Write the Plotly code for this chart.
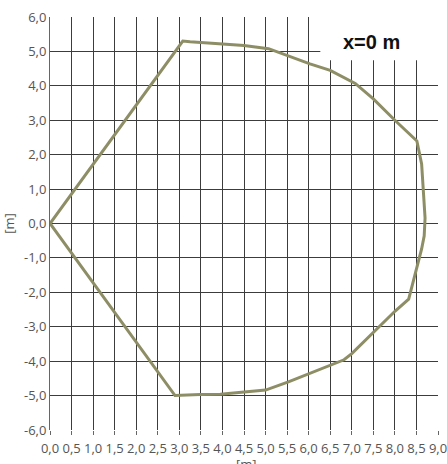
import plotly.graph_objects as go

# cross-section outline at x=0 m (lateral [m], vertical [m])
outline_y = [0.0, 3.08, 3.25, 4.0, 4.5, 5.07, 6.03, 6.5, 7.08, 7.5, 8.0, 8.51,
             8.62, 8.70, 8.68, 8.62, 8.5, 8.32, 8.0, 7.5, 7.0, 6.82, 6.03, 5.53,
             5.0, 4.5, 3.95, 3.48, 3.0, 2.9, 0.0]
outline_z = [0.0, 5.30, 5.28, 5.22, 5.17, 5.08, 4.64, 4.45, 4.07, 3.62, 3.0, 2.4,
             1.73, 0.16, -0.36, -0.74, -1.31, -2.2, -2.55, -3.18, -3.78, -3.96, -4.36, -4.6,
             -4.84, -4.9, -4.96, -4.97, -5.0, -5.0, 0.0]

x_ticks = [0.0, 0.5, 1.0, 1.5, 2.0, 2.5, 3.0, 3.5, 4.0, 4.5, 5.0, 5.5, 6.0, 6.5, 7.0, 7.5, 8.0, 8.5, 9.0]
x_labels = ["0,0", "0,5", "1,0", "1,5", "2,0", "2,5", "3,0", "3,5", "4,0", "4,5",
            "5,0", "5,5", "6,0", "6,5", "7,0", "7,5", "8,0", "8,5", "9,0"]
y_ticks = [6, 5, 4, 3, 2, 1, 0, -1, -2, -3, -4, -5, -6]
y_labels = ["6,0", "5,0", "4,0", "3,0", "2,0", "1,0", "0,0", "-1,0", "-2,0", "-3,0", "-4,0", "-5,0", "-6,0"]

fig = go.Figure()
fig.add_trace(go.Scatter(x=outline_y, y=outline_z, mode="lines",
                         line=dict(color="#8e8e66", width=3), hoverinfo="skip"))

# white label box hiding the grid in the upper right corner
fig.add_shape(type="rect", xref="x", yref="y", x0=6.27, x1=9.3, y0=4.74, y1=6.6,
              fillcolor="white", line=dict(width=0), layer="above")

tick_font = dict(family="Open Sans, DejaVu Sans", size=13, color="#555")
fig.update_xaxes(range=[0, 9], tickvals=x_ticks, ticktext=x_labels, showgrid=True,
                 gridcolor="#3c3c3c", gridwidth=1, zeroline=False, showline=False,
                 ticks="outside", ticklen=4, tickcolor="#666", tickfont=tick_font,
                 ticklabelstandoff=2, ticklabeloverflow="allow", automargin=False)
fig.update_yaxes(range=[-6, 6], tickvals=y_ticks, ticktext=y_labels, showgrid=True,
                 gridcolor="#3c3c3c", gridwidth=1, zeroline=False, showline=True,
                 linecolor="#666", linewidth=1, ticks="", tickfont=tick_font,
                 ticklabeloverflow="allow", automargin=False,
                 title=dict(text="[m]", font=tick_font, standoff=10))

fig.update_layout(width=447, height=464, margin=dict(l=50, r=9, t=17, b=34),
                  plot_bgcolor="white", paper_bgcolor="white", showlegend=False)
pw, ph = 388, 413
fig.add_annotation(text="<b>x=0 m</b>", xref="paper", yref="paper",
                   x=(371 - 50) / pw, y=1 - (42 - 17) / ph, xanchor="center", yanchor="middle",
                   showarrow=False,
                   font=dict(family="Liberation Sans, Arial", size=20, color="#111"))
# x axis title sits at the very bottom edge, partly cut as in the source
fig.add_annotation(text="[m]", xref="paper", yref="paper",
                   x=(246 - 50) / pw, y=1 - (464 - 17) / ph, xanchor="center", yanchor="middle",
                   showarrow=False, font=tick_font)
# drop the default body margin so the figure sits at the page corner
fig.write_html("out.html", config={"displayModeBar": False},
               post_script="document.body.style.margin='0';")
